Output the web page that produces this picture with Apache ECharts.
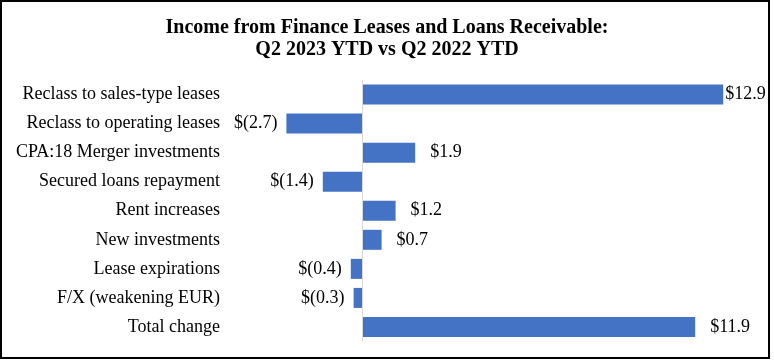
<!DOCTYPE html>
<html>
<head>
<meta charset="utf-8">
<script src="https://cdn.jsdelivr.net/npm/echarts@6/dist/echarts.min.js"></script>
<style>
html,body{margin:0;padding:0;background:#fff;}
#c{width:774px;height:361px;}
</style>
</head>
<body>
<div id="c"></div>
<script>
const titleLines = ["Income from Finance Leases and Loans Receivable:", "Q2 2023 YTD vs Q2 2022 YTD"];
const categories = [
  "Reclass to sales-type leases",
  "Reclass to operating leases",
  "CPA:18 Merger investments",
  "Secured loans repayment",
  "Rent increases",
  "New investments",
  "Lease expirations",
  "F/X (weakening EUR)",
  "Total change"
];
const values = [12.9, -2.7, 1.9, -1.4, 1.2, 0.7, -0.4, -0.3, 11.9];

function fmt(v) {
  return v >= 0 ? "$" + v.toFixed(1) : "$(" + Math.abs(v).toFixed(1) + ")";
}

const font = "'Liberation Serif', 'Times New Roman', serif";
const chart = echarts.init(document.getElementById('c'), null, {renderer: 'canvas'});

const seriesData = values.map(function (v) {
  return {
    value: v,
    label: {
      position: v >= 0 ? 'right' : 'left',
      distance: v >= 0 ? (v > 12 ? 2 : 15) : 9
    }
  };
});

chart.setOption({
  animation: false,
  backgroundColor: '#fff',
  title: {
    text: titleLines.join("\n"),
    left: 'center',
    top: 12,
    textStyle: {
      fontFamily: font,
      fontWeight: 'bold',
      fontSize: 20,
      lineHeight: 22,
      color: '#000'
    }
  },
  graphic: [{
    type: 'rect',
    shape: {x: 1, y: 1, width: 768, height: 357},
    style: {fill: 'none', stroke: '#000', lineWidth: 2},
    silent: true
  }],
  grid: {left: 222, right: 20, top: 80, bottom: 19.5},
  xAxis: {
    type: 'value',
    min: -5,
    max: 14,
    show: false,
    splitLine: {show: false}
  },
  yAxis: {
    type: 'category',
    data: categories,
    inverse: true,
    axisLine: {show: false},
    axisTick: {show: false},
    axisLabel: {
      margin: 2,
      fontFamily: font,
      fontSize: 18,
      color: '#000'
    }
  },
  series: [{
    type: 'bar',
    data: seriesData,
    barWidth: 20,
    itemStyle: {color: '#4472C4'},
    label: {
      show: true,
      fontFamily: font,
      fontSize: 18,
      color: '#000',
      formatter: function (p) { return fmt(p.value); }
    },
    markLine: {
      silent: true,
      symbol: 'none',
      label: {show: false},
      lineStyle: {color: '#d9d9d9', type: 'solid', width: 1},
      data: [{xAxis: 0}]
    }
  }]
});
</script>
</body>
</html>
